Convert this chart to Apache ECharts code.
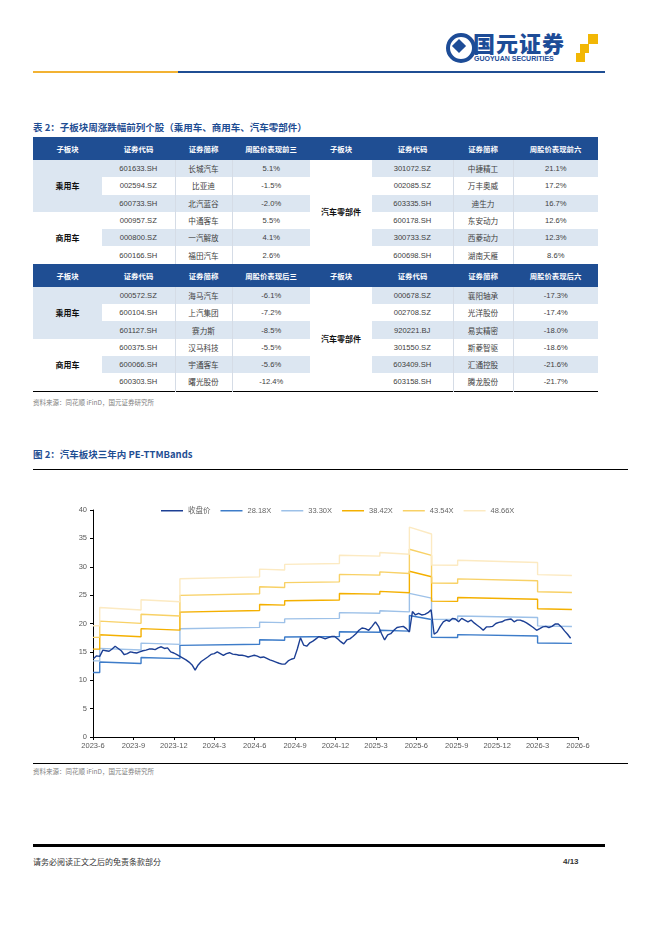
<!DOCTYPE html>
<html lang="zh-CN">
<head>
<meta charset="UTF-8">
<title>汽车板块三年内 PE-TTMBands</title>
<style>
  body{margin:0;background:#fff;font-family:"Noto Sans CJK SC",sans-serif;}
  #page{position:relative;width:662px;height:936px;overflow:hidden;background:#fff;}
  .abs{position:absolute;}
  .cap{color:#1F4E93;font-weight:bold;font-size:9.5px;line-height:12px;white-space:nowrap;}
  .src{color:#808080;font-size:6.5px;line-height:9px;white-space:nowrap;}
  table{border-collapse:collapse;table-layout:fixed;font-size:7.6px;}
  td{padding:0;text-align:center;vertical-align:middle;color:#404040;overflow:hidden;white-space:nowrap;}
  td.hd{background:#1F4E93;color:#fff;font-weight:bold;height:23px;font-size:7.4px;}
  td.bd{height:17.3px;}
  td.num{font-family:"Liberation Sans","Noto Sans CJK SC",sans-serif;}
  td.sec{font-weight:bold;color:#111;font-size:8px;}
  td.lt{background:#DCE6F1;}
  td.vl{border-left:1px solid #D5DCE6;}
</style>
</head>
<body>
<div id="page">
  <!-- logo -->
  <div class="abs" style="left:446px;top:33px;width:22px;height:22px;border:4px solid #1D4C97;border-radius:50%;"></div>
  <div class="abs" style="left:454px;top:41px;width:10px;height:10px;background:#1D4C97;transform:rotate(45deg);"></div>
  <div class="abs" style="left:473px;top:29px;font-size:22px;font-weight:900;color:#1D4C97;letter-spacing:1px;line-height:26px;">国元证券</div>
  <div class="abs" style="left:474px;top:54px;font-size:7px;font-weight:bold;color:#1D4C97;line-height:9px;font-family:'Liberation Sans',sans-serif;">GUOYUAN SECURITIES</div>
  <div class="abs" style="left:588px;top:34px;width:10px;height:10px;background:#F2B705;"></div>
  <div class="abs" style="left:580px;top:44px;width:9px;height:9px;background:#F2B705;"></div>
  <div class="abs" style="left:576px;top:53px;width:9px;height:9px;background:#F2B705;"></div>
  <!-- header rule -->
  <div class="abs" style="left:33px;top:71px;width:145px;height:2px;background:#F2B233;"></div>
  <div class="abs" style="left:178px;top:71px;width:427px;height:2px;background:#1F4E93;"></div>

  <div class="abs cap" style="left:33px;top:121px;">表 2：子板块周涨跌幅前列个股（乘用车、商用车、汽车零部件）</div>
  <table id="tbl" class="abs" style="left:33px;top:137px;width:565px;border-bottom:1.5px solid #000;">
    <colgroup>
      <col style="width:69px"><col style="width:73px"><col style="width:57px"><col style="width:78px">
      <col style="width:62px"><col style="width:81px"><col style="width:60px"><col style="width:85px">
    </colgroup>
    <tbody id="tbody"></tbody>
  </table>
  <div class="abs src" style="left:33px;top:398px;">资料来源：同花顺 iFinD，国元证券研究所</div>

  <div class="abs cap" style="left:33px;top:448px;">图 2：汽车板块三年内 PE-TTMBands</div>
  <div class="abs" style="left:33px;top:469px;width:595px;height:1px;background:#000;"></div>
  <div id="chart" class="abs" style="left:0;top:480px;width:662px;height:282px;"></div>
  <div class="abs" style="left:33px;top:763px;width:595px;height:1px;background:#000;"></div>
  <div class="abs src" style="left:33px;top:767px;">资料来源：同花顺 iFinD，国元证券研究所</div>

  <div class="abs" style="left:33px;top:844px;width:572px;height:2.5px;background:#000;"></div>
  <div class="abs" style="left:33px;top:856px;font-size:8px;color:#333;line-height:12px;">请务必阅读正文之后的免责条款部分</div>
  <div class="abs" style="left:563px;top:856px;font-size:8px;font-weight:bold;color:#333;line-height:12px;font-family:'Liberation Sans',sans-serif;">4/13</div>
</div>

<script src="https://cdn.jsdelivr.net/npm/echarts@6/dist/echarts.min.js"></script>
<script>
// ---- table data ----
var headTop = ['子板块','证券代码','证券简称','周股价表现前三','子板块','证券代码','证券简称','周股价表现前六'];
var headBottom = ['子板块','证券代码','证券简称','周股价表现后三','子板块','证券代码','证券简称','周股价表现后六'];
var leftSectors = ['乘用车','商用车'];
var rightSector = '汽车零部件';
var topLeft = [['601633.SH','长城汽车','5.1%'],['002594.SZ','比亚迪','-1.5%'],['600733.SH','北汽蓝谷','-2.0%'],
               ['000957.SZ','中通客车','5.5%'],['000800.SZ','一汽解放','4.1%'],['600166.SH','福田汽车','2.6%']];
var topRight = [['301072.SZ','中捷精工','21.1%'],['002085.SZ','万丰奥威','17.2%'],['603335.SH','迪生力','16.7%'],
                ['600178.SH','东安动力','12.6%'],['300733.SZ','西菱动力','12.3%'],['600698.SH','湖南天雁','8.6%']];
var bottomLeft = [['000572.SZ','海马汽车','-6.1%'],['600104.SH','上汽集团','-7.2%'],['601127.SH','赛力斯','-8.5%'],
                  ['600375.SH','汉马科技','-5.5%'],['600066.SH','宇通客车','-5.6%'],['600303.SH','曙光股份','-12.4%']];
var bottomRight = [['000678.SZ','襄阳轴承','-17.3%'],['002708.SZ','光洋股份','-17.4%'],['920221.BJ','易实精密','-18.0%'],
                   ['301550.SZ','斯菱智驱','-18.6%'],['603409.SH','汇通控股','-21.6%'],['603158.SH','腾龙股份','-21.7%']];

// ---- chart data ----
var closeStart = '2023-06-02'; // weekly closes from this date
var closeValues = [
  13.8,14.3,14.2,15.3,15.2,15.1,15.5,16.0,15.6,15.2,14.5,14.7,15.0,14.9,14.8,15.0,15.2,15.3,15.5,15.5,
  15.4,15.7,15.9,15.6,15.7,15.0,14.8,14.5,14.2,13.9,13.6,13.2,12.7,11.8,12.7,13.3,13.7,14.1,14.55,14.7,
  15.0,14.7,14.4,14.7,14.85,14.6,14.55,14.4,14.4,14.3,14.1,14.25,14.4,14.25,14.0,14.1,13.85,13.6,13.4,13.2,
  13.0,12.85,12.85,13.4,13.7,13.85,15.5,17.5,16.2,16.0,16.6,16.9,17.3,17.7,17.5,17.3,17.5,17.7,17.7,17.3,
  16.8,16.4,17.1,17.3,17.7,18.2,18.8,19.2,19.1,18.8,19.5,20.3,19.5,18.2,17.1,18.0,18.2,18.8,19.3,19.4,
  19.5,19.1,18.5,22.1,21.5,21.8,21.5,21.6,21.9,22.4,18.1,18.5,19.5,20.3,20.6,20.4,20.9,20.8,20.3,20.9,
  20.6,20.3,20.6,20.1,19.7,19.3,18.8,19.4,19.4,19.5,20.0,20.2,20.3,20.6,20.7,20.8,20.3,20.6,20.6,20.4,
  20.1,19.7,19.3,18.8,19.1,19.4,19.5,19.3,19.5,19.9,19.9,19.4,18.7,18.1,17.4
];
// band breakpoints (repeated dates mark the jumps)
var bandDates = ['2023-06-01','2023-06-16','2023-06-16','2023-09-18','2023-09-18','2023-12-15','2023-12-15','2024-06-12',
                 '2024-06-12','2024-08-08','2024-08-08','2024-12-10','2024-12-10','2025-03-10','2025-03-10','2025-05-16',
                 '2025-05-16','2025-07-05','2025-07-05','2025-09-03','2025-09-03','2026-03-01','2026-03-01','2026-05-18'];
var band1 = [11.36,11.36,13.22,12.96,14.01,13.81,16.15,16.34,17.13,17.05,17.61,17.70,18.54,18.46,18.82,18.66,21.42,20.71,17.56,17.53,18.04,17.81,16.57,16.49];
var band2 = [13.42,13.42,15.62,15.32,16.55,16.32,19.08,19.31,20.25,20.15,20.81,20.91,21.91,21.81,22.24,22.04,25.31,24.48,20.75,20.71,21.31,21.05,19.58,19.48];
var band3 = [15.48,15.48,18.02,17.67,19.09,18.83,22.01,22.28,23.36,23.24,24.01,24.13,25.28,25.17,25.66,25.43,29.20,28.24,23.94,23.90,24.59,24.28,22.59,22.48];
var band4 = [17.55,17.55,20.42,20.03,21.64,21.33,24.95,25.25,26.47,26.34,27.21,27.34,28.65,28.52,29.09,28.82,33.09,32.00,27.13,27.08,27.87,27.52,25.60,25.47];
var band5 = [19.61,19.61,22.82,22.38,24.18,23.84,27.88,28.22,29.59,29.44,30.41,30.56,32.02,31.87,32.50,32.21,36.98,35.77,30.32,30.27,31.14,30.75,28.61,28.47];
var bandNames = ['28.18X','33.30X','38.42X','43.54X','48.66X'];
var closeName = '收盘价';

// ---- build table ----
function cell(txt, cls, attrs) {
  return '<td class="' + cls + '"' + (attrs || '') + '>' + txt + '</td>';
}
function block(head, left, right) {
  var h = '<tr>' + head.map(function (t) { return cell(t, 'hd'); }).join('') + '</tr>';
  for (var r = 0; r < 6; r++) {
    var lt = (r % 2 === 0) ? ' lt' : '';
    h += '<tr>';
    if (r % 3 === 0) {
      h += cell(leftSectors[r / 3], 'bd sec' + (r === 0 ? ' lt' : ''), ' rowspan="3"');
    }
    h += cell(left[r][0], 'bd num' + lt) + cell(left[r][1], 'bd vl' + lt) + cell(left[r][2], 'bd num vl' + lt);
    if (r === 0) h += cell(rightSector, 'bd sec', ' rowspan="6"');
    h += cell(right[r][0], 'bd num' + lt) + cell(right[r][1], 'bd vl' + lt) + cell(right[r][2], 'bd num vl' + lt);
    h += '</tr>';
  }
  return h;
}
document.getElementById('tbody').innerHTML = block(headTop, topLeft, topRight) + block(headBottom, bottomLeft, bottomRight);

// ---- chart ----
// x axis counts months since 2023-06
function monthIdx(s) {
  var p = s.split('-');
  var y = +p[0], m = +p[1], d = +p[2];
  var dim = new Date(Date.UTC(y, m, 0)).getUTCDate();
  return (y - 2023) * 12 + (m - 6) + (d - 1) / dim;
}
var st = closeStart.split('-');
var t0 = Date.UTC(+st[0], +st[1] - 1, +st[2]);
var closeData = closeValues.map(function (v, i) {
  var t = new Date(t0 + i * 7 * 86400000);
  var s = t.getUTCFullYear() + '-' + (t.getUTCMonth() + 1) + '-' + t.getUTCDate();
  return [monthIdx(s), v];
});
var bands = [band1, band2, band3, band4, band5];
var bandColors = ['#3D7CC9', '#9DC1E8', '#F4B000', '#F8D166', '#FCEAC2'];

var series = bands.map(function (b, k) {
  return {
    name: bandNames[k], type: 'line', symbol: 'none', z: 2,
    lineStyle: { width: 1.4, color: bandColors[k] },
    itemStyle: { color: bandColors[k] },
    data: bandDates.map(function (d, j) { return [monthIdx(d), b[j]]; })
  };
});
series.push({
  name: closeName, type: 'line', symbol: 'none', z: 5,
  lineStyle: { width: 1.4, color: '#1C3F94' },
  itemStyle: { color: '#1C3F94' },
  data: closeData
});

var FONT = '"Liberation Sans","Noto Sans CJK SC",sans-serif';
var myChart = echarts.init(document.getElementById('chart'));
var option = {
  animation: false,
  legend: {
    data: [closeName].concat(bandNames),
    top: 22, left: 156,
    icon: 'rect',
    itemWidth: 22, itemHeight: 1.5, itemGap: 10,
    textStyle: { color: '#666', fontSize: 7.5, fontFamily: FONT }
  },
  grid: { left: 93, right: 84, top: 30, height: 227 },
  xAxis: {
    type: 'value', min: 0, max: 36, interval: 3,
    axisLine: { lineStyle: { color: '#000', width: 1 } },
    axisTick: { show: true, length: 3, lineStyle: { color: '#000' } },
    splitLine: { show: false },
    axisLabel: {
      color: '#595959', fontSize: 7.5, fontFamily: FONT, margin: 5,
      formatter: function (v) {
        var y = 2023 + Math.floor((v + 5) / 12);
        var m = ((v + 5) % 12) + 1;
        return y + '-' + m;
      }
    }
  },
  yAxis: {
    type: 'value', min: 0, max: 40, interval: 5,
    axisLine: { show: true, lineStyle: { color: '#000', width: 1 } },
    axisTick: { show: true, length: 3, lineStyle: { color: '#000' } },
    splitLine: { show: false },
    axisLabel: { color: '#595959', fontSize: 7.5, fontFamily: FONT, margin: 6 }
  },
  series: series
};
myChart.setOption(option);
</script>
</body>
</html>
